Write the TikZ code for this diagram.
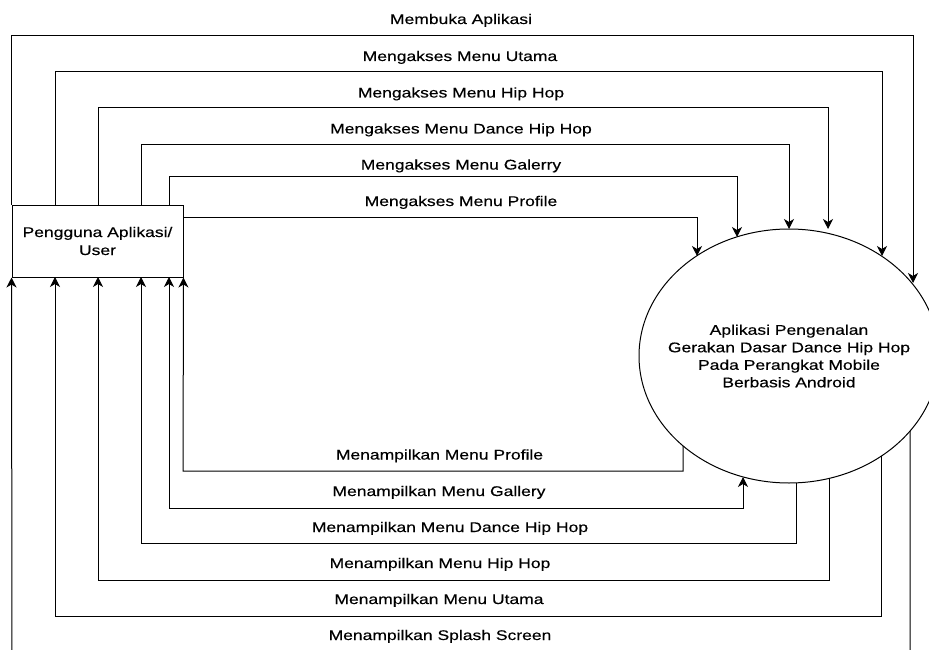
\documentclass[tikz,border=0pt]{standalone}
\usepackage{fontspec}
\setmainfont{Liberation Sans}[FakeStretch=1.25,FakeBold=0.3]
\usetikzlibrary{arrows.meta,shapes.geometric}
\begin{document}
\begin{tikzpicture}[x=1pt,y=-1pt,
  tipa/.tip={Stealth[length=10pt,width=10pt,inset=3pt]},
  flow/.style={draw=black, line width=1pt, -tipa},
  both/.style={draw=black, line width=1pt, tipa-tipa},
  lbl/.style={font=\fontsize{14}{17}\selectfont, inner sep=0pt, anchor=base},
  shapeline/.style={draw=black, line width=1pt}
]
\useasboundingbox (0,0) rectangle (929,650);
\clip (0,0) rectangle (929,650);
\fill[white] (0,0) rectangle (929,650);

% entities
\node[shapeline, minimum width=171pt, minimum height=72pt, inner sep=0pt,
      align=center, font=\fontsize{14}{18}\selectfont] (U) at (97.5,241)
      {Pengguna Aplikasi/\\User};
\node[shapeline, ellipse, minimum width=300pt, minimum height=254pt, inner sep=0pt] (E) at (789,356) {};
\node[align=center, inner sep=0pt, font=\fontsize{14}{17.5}\selectfont] (Et) at (E.center)
      {Aplikasi Pengenalan\\Gerakan Dasar Dance Hip Hop\\Pada Perangkat Mobile\\Berbasis Android};

% ports on the box
\coordinate (p1) at (55,205);
\coordinate (p2) at (98,205);
\coordinate (p3) at (141,205);
\coordinate (p4) at (169,205);
\coordinate (p5) at (183,217);
\coordinate (q1) at (55,277);
\coordinate (q2) at (98,277);
\coordinate (q3) at (141,277);
\coordinate (q4) at (169,277);

% ports on the ellipse
\coordinate (t1) at (913,283);
\coordinate (t2) at (882,256);
\coordinate (t3) at (828,229);
\coordinate (t4) at (789,229);
\coordinate (t5) at (737,237);
\coordinate (t6) at (697,256);
\coordinate (b1) at (683,446);
\coordinate (b2) at (743,477);
\coordinate (b3) at (796,483);
\coordinate (b4) at (829,478);
\coordinate (b5) at (881,456);
\coordinate (b6) at (910,431);

% user -> system
\draw[flow] (U.north west) |- (913,36) -- (t1);
\draw[flow] (p1) |- (882,72) -- (t2);
\draw[flow] (p2) |- (828,108) -- (t3);
\draw[flow] (p3) |- (789,145) -- (t4);
\draw[flow] (p4) |- (737,176) -- (t5);
\draw[flow] (p5) -| (t6);

% system -> user
\draw[flow] (b1) |- (183,471) -- (U.south east);
\draw[both] (q4) |- (743,508) -- (b2);
\draw[flow] (b3) |- (141,543) -- (q3);
\draw[flow] (b4) |- (98,580) -- (q2);
\draw[flow] (b5) |- (55,616) -- (q1);
\draw[flow] (b6) |- (12,660) -- (U.south west);

% labels
\node[lbl] (L1) at (461,24) {Membuka Aplikasi};
\node[lbl] (L2) at (460,61) {Mengakses Menu Utama};
\node[lbl] (L3) at (461,97.5) {Mengakses Menu Hip Hop};
\node[lbl] (L4) at (461,133.5) {Mengakses Menu Dance Hip Hop};
\node[lbl] (L5) at (461,169.5) {Mengakses Menu Galerry};
\node[lbl] (L6) at (461,206) {Mengakses Menu Profile};
\node[lbl] (M1) at (439.5,459.5) {Menampilkan Menu Profile};
\node[lbl] (M2) at (439,496) {Menampilkan Menu Gallery};
\node[lbl] (M3) at (450,532) {Menampilkan Menu Dance Hip Hop};
\node[lbl] (M4) at (440,568) {Menampilkan Menu Hip Hop};
\node[lbl] (M5) at (439,604) {Menampilkan Menu Utama};
\node[lbl] (M6) at (440,640) {Menampilkan Splash Screen};
\end{tikzpicture}
\end{document}
